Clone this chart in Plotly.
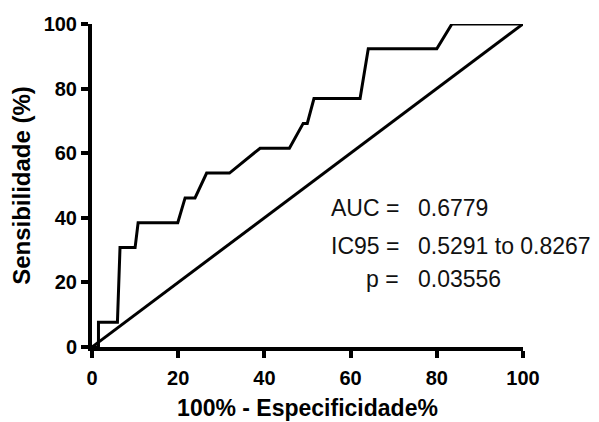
import plotly.graph_objects as go

# ROC curve (100% - specificity, sensitivity)
fpr = [0, 1.5, 1.5, 5.9, 6.5, 10.0, 10.7, 19.9, 21.6, 23.9, 26.6, 31.9, 39.0, 45.8,
       49.0, 49.95, 51.5, 62.2, 64.1, 80.0, 83.5, 100]
tpr = [0, 0, 7.69, 7.69, 30.77, 30.77, 38.46, 38.46, 46.15, 46.15, 53.85, 53.85, 61.54,
       61.54, 69.23, 69.23, 76.92, 76.92, 92.31, 92.31, 100, 100]
ref_x = [0, 100]
ref_y = [0, 100]
tick_vals = [0, 20, 40, 60, 80, 100]
stat_labels = ["AUC =", "IC95 =", "p ="]
stat_values = ["0.6779", "0.5291 to 0.8267", "0.03556"]
stat_y = [43.1, 31.2, 21.0]

FONT = "Liberation Sans, Arial, sans-serif"

fig = go.Figure()
fig.add_trace(go.Scatter(x=fpr, y=tpr, mode="lines", line=dict(color="black", width=3),
                         cliponaxis=False, showlegend=False))
fig.add_trace(go.Scatter(x=ref_x, y=ref_y, mode="lines", line=dict(color="black", width=3),
                         cliponaxis=False, showlegend=False))

for lab, val, yy in zip(stat_labels, stat_values, stat_y):
    fig.add_annotation(x=71.7, y=yy, xref="x", yref="y", text=lab, showarrow=False,
                       xanchor="right", font=dict(family=FONT, size=23, color="#111"))
    fig.add_annotation(x=75.2, y=yy, xref="x", yref="y", text=val, showarrow=False,
                       xanchor="left", font=dict(family=FONT, size=23, color="#111"))

axis_common = dict(range=[0, 100], tickvals=tick_vals, showgrid=False, zeroline=False,
                   showline=True, linecolor="black", linewidth=4, ticks="outside",
                   ticklen=7, tickwidth=4, tickcolor="black", automargin=False,
                   tickfont=dict(family=FONT, size=20, color="black", weight="bold"))

fig.update_xaxes(**axis_common, title_text="100% - Especificidade%", title_standoff=13,
                 ticklabelstandoff=3,
                 title_font=dict(family=FONT, size=23, color="black", weight="bold"))
fig.update_yaxes(**axis_common, title_text="Sensibilidade (%)", title_standoff=12,
                 title_font=dict(family=FONT, size=24, color="black", weight="bold"))

fig.update_layout(width=591, height=414, margin=dict(l=84, r=76, t=16, b=75),
                  plot_bgcolor="white", paper_bgcolor="white")
fig.write_html("out.html")
